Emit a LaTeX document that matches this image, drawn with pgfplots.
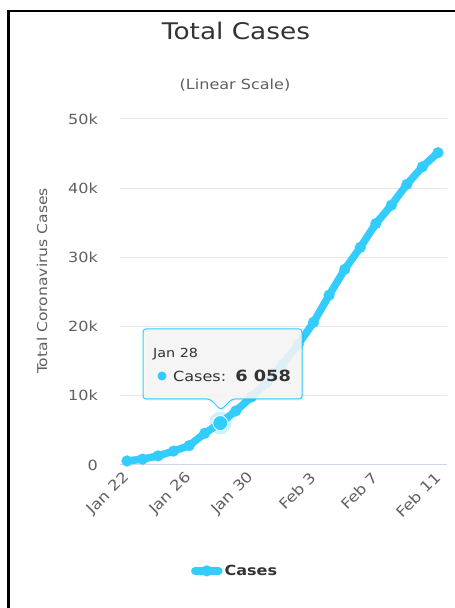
\documentclass[border=0pt]{standalone}
\usepackage{fontspec}
\setmainfont{DejaVu Sans}[FakeStretch=1.15]
\usepackage{pgfplots}
\pgfplotsset{compat=1.18}
\definecolor{series}{RGB}{51,204,255}
\definecolor{txt}{RGB}{51,51,51}
\definecolor{lbl}{RGB}{96,96,96}
\definecolor{gridc}{RGB}{230,230,230}
\definecolor{xline}{RGB}{204,214,235}
\definecolor{tipbg}{RGB}{247,247,247}
\begin{document}
\begin{tikzpicture}[x=1bp,y=1bp]
\useasboundingbox (0,0) rectangle (455,608);
\fill[white] (0,0) rectangle (455,608);
\begin{axis}[
  at={(120bp,143bp)}, anchor=south west,
  scale only axis, width=327bp, height=346bp,
  xmin=-0.45, xmax=20.58, ymin=0, ymax=50000,
  axis line style={draw=none},
  major tick length=0pt,
  ymajorgrids, grid style={gridc, line width=1bp},
  ytick={10000,20000,30000,40000,50000},
  yticklabels={10k,20k,30k,40k,50k},
  extra y ticks={0}, extra y tick labels={0},
  extra y tick style={grid style={xline, line width=1bp}},
  scaled y ticks=false,
  xtick={0,4,8,12,16,20},
  xticklabels={Jan 22,Jan 26,Jan 30,Feb 3,Feb 7,Feb 11},
  y tick label style={font=\fontsize{14}{16}\selectfont, text=lbl, inner sep=0pt},
  yticklabel shift=22bp,
  x tick label style={font=\fontsize{14.5}{16}\selectfont, text=lbl, inner sep=0pt, rotate=45, anchor=east},
  xticklabel shift=10bp,
  ylabel={Total Coronavirus Cases},
  ylabel style={at={(axis description cs:-0.2385,0.532)}, anchor=center, rotate=0, font=\fontsize{13.6}{16}\selectfont, text=lbl},
  legend style={at={(axis description cs:0.352,-0.306)}, anchor=center, draw=none, fill=none,
    font=\bfseries\fontsize{14}{16}\selectfont, text=txt},
  legend image code/.code={\draw[mark repeat=2,mark phase=2,#1] plot coordinates {(0bp,0bp) (12bp,0bp) (24bp,0bp)};},
  clip=false,
]
\addplot[series, line width=7.5bp, line join=round, line cap=round, mark=*, mark size=5.5bp, mark options={line width=0.1bp, fill=series, draw=series}]
  coordinates {
  (0,580) (1,845) (2,1317) (3,2015) (4,2800) (5,4581) (6,6058) (7,7813)
  (8,9823) (9,11950) (10,14553) (11,17391) (12,20630) (13,24545) (14,28266)
  (15,31439) (16,34876) (17,37552) (18,40553) (19,43099) (20,45134)
  };
\addlegendentry{Cases}
\addplot[only marks, mark=*, mark size=11bp, mark options={draw=series, fill=series, line width=0.1bp, opacity=0.25}, forget plot]
  coordinates {(6,6058)};
\addplot[only marks, mark=*, mark size=7.5bp, mark options={draw=white, line width=0.8bp, fill=series}, forget plot]
  coordinates {(6,6058)};
\end{axis}
% tooltip
\fill[black, opacity=0.08, rounded corners=3bp, xshift=1.5bp, yshift=-1.5bp]
  (143,279) -- (302,279) -- (302,209) -- (232,209) -- (221,198) -- (210,209) -- (143,209) -- cycle;
\draw[draw=series, line width=1bp, fill=tipbg, fill opacity=0.88, rounded corners=3bp]
  (143,279) -- (302,279) -- (302,209) -- (232,209) -- (221,198) -- (210,209) -- (143,209) -- cycle;
\node[anchor=base west, inner sep=0pt, text=txt, font=\fontsize{12.5}{14}\selectfont] at (153,250) {Jan 28};
\fill[series] (162,232) circle (4.5);
\node[anchor=base west, inner sep=0pt, text=txt, font=\fontsize{14}{16}\selectfont] at (173,226) {Cases:\, \fontsize{15.5}{16}\selectfont\textbf{6 058}};
% titles
\node[anchor=base, inner sep=0pt, text=txt, font=\fontsize{23}{26}\selectfont] at (236,568) {Total Cases};
\node[anchor=base, inner sep=0pt, text=lbl, font=\fontsize{14}{16}\selectfont] at (235,518) {(Linear Scale)};
% frame
\draw[line width=2.7bp] (8.7,-5) -- (8.7,597) -- (460,597);
\end{tikzpicture}
\end{document}
